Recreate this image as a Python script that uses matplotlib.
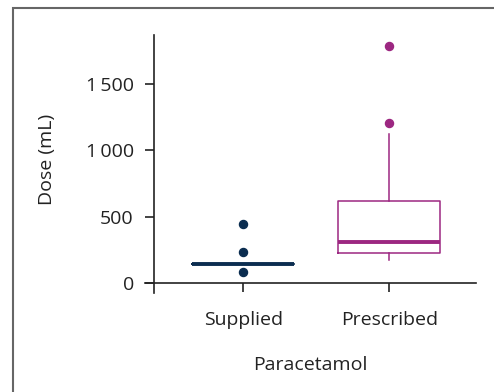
import matplotlib.pyplot as plt
from matplotlib.patches import Rectangle

# values (mL)
categories = ['Supplied', 'Prescribed']
q1 = [140, 225]
median = [140, 312]
q3 = [140, 617]
whisker_low = [140, 175]
whisker_high = [140, 1120]
outliers = [[83, 230, 441], [1203, 1784]]
colors = ['#0b2d50', '#9c2781']
y_ticks = [0, 500, 1000, 1500]
y_tick_labels = ['0', '500', '1\u2009000', '1\u2009500']

plt.rcParams['font.family'] = ['Open Sans', 'DejaVu Sans']
fs = 14

fig = plt.figure(figsize=(4.94, 3.92), dpi=100)
# outer frame (right and bottom edge cut off like the original)
fig.patches.append(Rectangle((13 / 494, -0.1), 1.2, (392 - 8) / 392 + 0.1,
                             transform=fig.transFigure, fill=False,
                             edgecolor='#666666', linewidth=1.5))

ax = fig.add_axes([145 / 494, 1 - 293 / 392, (476 - 145) / 494, (293 - 35) / 392])

stats = []
for i in range(len(categories)):
    stats.append(dict(q1=q1[i], med=median[i], q3=q3[i],
                      whislo=whisker_low[i], whishi=whisker_high[i],
                      fliers=outliers[i], label=categories[i]))

bp = ax.bxp(stats, positions=range(len(categories)), widths=0.70,
            showcaps=False, patch_artist=False)
for i, c in enumerate(colors):
    bp['boxes'][i].set(color=c, linewidth=1.1)
    bp['medians'][i].set(color=c, linewidth=2.8, solid_capstyle='butt')
    for w in bp['whiskers'][2 * i:2 * i + 2]:
        w.set(color=c, linewidth=1.1)
    bp['fliers'][i].set(marker='o', markerfacecolor=c, markeredgecolor=c,
                        markersize=5.8)

ax.set_xlim(-0.673, 1.594)
ax.set_ylim(-75, 1865)
ax.spines['left'].set_position(('data', -0.612))
ax.spines['bottom'].set_position(('data', 0))
ax.spines['top'].set_visible(False)
ax.spines['right'].set_visible(False)
for s in ['left', 'bottom']:
    ax.spines[s].set_linewidth(1.2)
    ax.spines[s].set_color('#222222')

ax.set_yticks(y_ticks)
ax.set_yticklabels(y_tick_labels)
ax.set_xticks(range(len(categories)))
ax.set_xticklabels(categories)
ax.tick_params(axis='both', direction='out', length=6.5, width=1.2,
               color='#222222', labelsize=fs, labelcolor='#222222')
ax.tick_params(axis='y', pad=8)
ax.tick_params(axis='x', pad=14)

ax.set_xlabel('Paracetamol', fontsize=fs, color='#222222', labelpad=19)
fig.text(47 / 494, 1 - 159 / 392, 'Dose (mL)', rotation=90, fontsize=fs,
         color='#222222', ha='center', va='center')

fig.savefig('out.png', dpi=100)
